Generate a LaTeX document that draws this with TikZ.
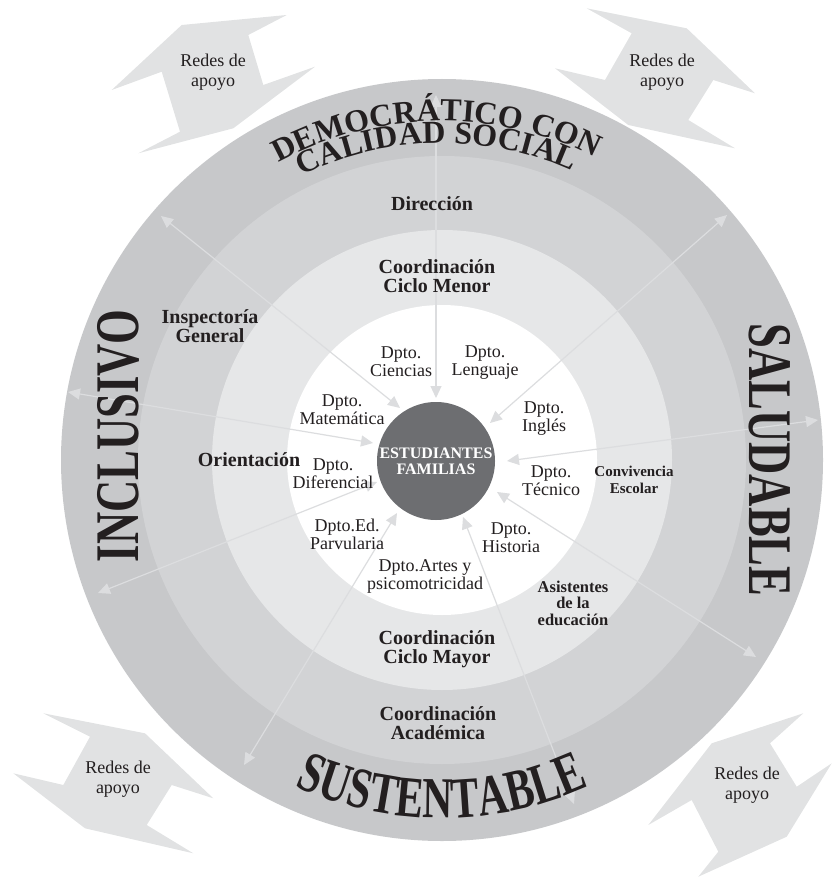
\documentclass[tikz,border=0pt]{standalone}
\usepackage{fontspec}
\setmainfont{Liberation Serif}
\newfontfamily\narrowserif{Liberation Serif}[FakeStretch=0.72]
\usetikzlibrary{arrows.meta,decorations.text,calc}

\definecolor{ringA}{HTML}{C7C8CA}
\definecolor{ringB}{HTML}{D2D3D5}
\definecolor{ringC}{HTML}{E6E7E8}
\definecolor{hubgray}{HTML}{6D6E71}
\definecolor{netfill}{HTML}{E1E2E3}
\definecolor{linkgray}{HTML}{DCDDDF}
\definecolor{ink}{HTML}{231F20}

\begin{document}
\begin{tikzpicture}[x=1pt,y=1pt,
  every node/.style={inner sep=0pt, text=ink, align=center},
  dept/.style={font=\fontsize{18}{18}\selectfont},
  unit/.style={font=\fontsize{20}{18.5}\selectfont\bfseries},
  smallunit/.style={font=\fontsize{15}{17}\selectfont\bfseries},
  network/.style={fill=netfill},
  netlabel/.style={font=\fontsize{18}{19.5}\selectfont},
  link/.style={draw=linkgray, line width=1.2pt,
    arrows={Triangle[length=12pt,width=11pt]-Triangle[length=12pt,width=11pt]}},
  bigword/.style={font=\narrowserif\bfseries\fontsize{62}{62}\selectfont},
]
\useasboundingbox (0,0) rectangle (832,-877);
\coordinate (C) at (442,-460);

% support networks (zigzag arrows in the corners)
\fill[network] (181.7,-25) -- (286.7,-15) -- (248.3,-35) -- (263.3,-85) -- (315,-66.7)
  -- (233.3,-128.3) -- (138.3,-153.3) -- (180,-131.7) -- (161.7,-71.7) -- (111.7,-90) -- cycle;
\fill[network] (586.7,-8.3) -- (686.7,-28.3) -- (755,-93.3) -- (713.3,-80) -- (688.3,-120)
  -- (735,-148.3) -- (628.3,-125) -- (555,-68.3) -- (605,-80) -- (631.7,-33.3) -- cycle;
\fill[network] (43.3,-713.3) -- (145,-733.3) -- (213.3,-798.3) -- (171.7,-785) -- (146.7,-825)
  -- (193.3,-853.3) -- (85,-828.3) -- (13.3,-773.3) -- (63.3,-785) -- (90,-736.7) -- cycle;
\fill[network] (711.7,-743.3) -- (803.3,-713.3) -- (770,-743.3) -- (796.7,-786.7) -- (831.7,-763.3)
  -- (786.7,-836.7) -- (698.3,-876.7) -- (718.3,-851.7) -- (691.7,-800) -- (648.3,-825) -- cycle;
\node[netlabel] (redesTL) at (213,-72) {Redes de\\apoyo};
\node[netlabel] (redesTR) at (662,-72) {Redes de\\apoyo};
\node[netlabel] (redesBL) at (118,-779) {Redes de\\apoyo};
\node[netlabel] (redesBR) at (747,-785) {Redes de\\apoyo};

% concentric rings
\fill[ringA] (C) circle (381);
\fill[ringB] (C) circle (304);
\fill[ringC] (C) circle (230);
\fill[white] (C) circle (155);

% two-way links between the centre and the outer ring
\coordinate (in1) at (436,-398); \coordinate (out1) at (436,-95);
\coordinate (in2) at (400,-408); \coordinate (out2) at (161,-216);
\coordinate (in3) at (490,-423); \coordinate (out3) at (727,-215);
\coordinate (in4) at (373,-443); \coordinate (out4) at (68,-392);
\coordinate (in5) at (507,-461); \coordinate (out5) at (818,-420);
\coordinate (in6) at (377,-482); \coordinate (out6) at (98,-593);
\coordinate (in7) at (497,-492); \coordinate (out7) at (756,-657);
\coordinate (in8) at (397,-513); \coordinate (out8) at (244,-765);
\coordinate (in9) at (463,-517); \coordinate (out9) at (574,-804);
\foreach \k in {1,...,9}{\draw[link] (in\k) -- (out\k);}

% centre
\node[circle, fill=hubgray, minimum size=118pt, text=white,
      font=\fontsize{16}{16}\selectfont\bfseries] (hub) at (436,-461) {ESTUDIANTES\\FAMILIAS};

% words around the outer ring
\path[decorate, decoration={text along path, text align=center, text color=ink,
  text={|\fontsize{32}{32}\selectfont\bfseries|DEMOCRÁTICO CON}}]
  ($(C)+(132:339)$) arc[start angle=132, end angle=50, radius=339];
\path[decorate, decoration={text along path, text align=center, text color=ink,
  text={|\fontsize{32}{32}\selectfont\bfseries|CALIDAD SOCIAL}}]
  ($(C)+(131:317)$) arc[start angle=131, end angle=51, radius=317];
\path[decorate, decoration={text along path, text align=center, text color=ink,
  text={|\narrowserif\bfseries\fontsize{58}{58}\selectfont|SUSTENTABLE}}]
  ($(C)+(-130:358)$) arc[start angle=-130, end angle=-50, radius=358];
\node[bigword, rotate=90] (inclusivo) at (118,-436) {INCLUSIVO};
\node[bigword, rotate=-90] (saludable) at (770,-460) {SALUDABLE};

% management units
\node[unit] (direccion) at (432,-204) {Dirección};
\node[unit] (cmenor) at (437,-276) {Coordinación\\Ciclo Menor};
\node[unit] (inspectoria) at (210,-326) {Inspectoría\\General};
\node[unit] (orientacion) at (249,-460) {Orientación};
\node[smallunit] (convivencia) at (634,-480) {Convivencia\\Escolar};
\node[unit, font=\fontsize{16.5}{16.5}\selectfont\bfseries] (asistentes) at (573,-603) {Asistentes\\de la\\educación};
\node[unit] (cmayor) at (437,-649) {Coordinación\\Ciclo Mayor};
\node[unit] (cacademica) at (438,-723) {Coordinación\\Académica};

% departments
\node[dept] (ciencias) at (401,-362) {Dpto.\\Ciencias};
\node[dept] (lenguaje) at (485,-363) {Dpto.\\Lenguaje};
\node[dept] (matematica) at (342,-410) {Dpto.\\Matemática};
\node[dept] (ingles) at (544,-419) {Dpto.\\Inglés};
\node[dept] (diferencial) at (333,-474) {Dpto.\\Diferencial};
\node[dept] (tecnico) at (551,-481) {Dpto.\\Técnico};
\node[dept] (parvularia) at (347,-534) {Dpto.Ed.\\Parvularia};
\node[dept] (historia) at (511,-538) {Dpto.\\Historia};
\node[dept] (artes) at (425,-576) {Dpto.Artes y\\psicomotricidad};
\end{tikzpicture}
\end{document}
